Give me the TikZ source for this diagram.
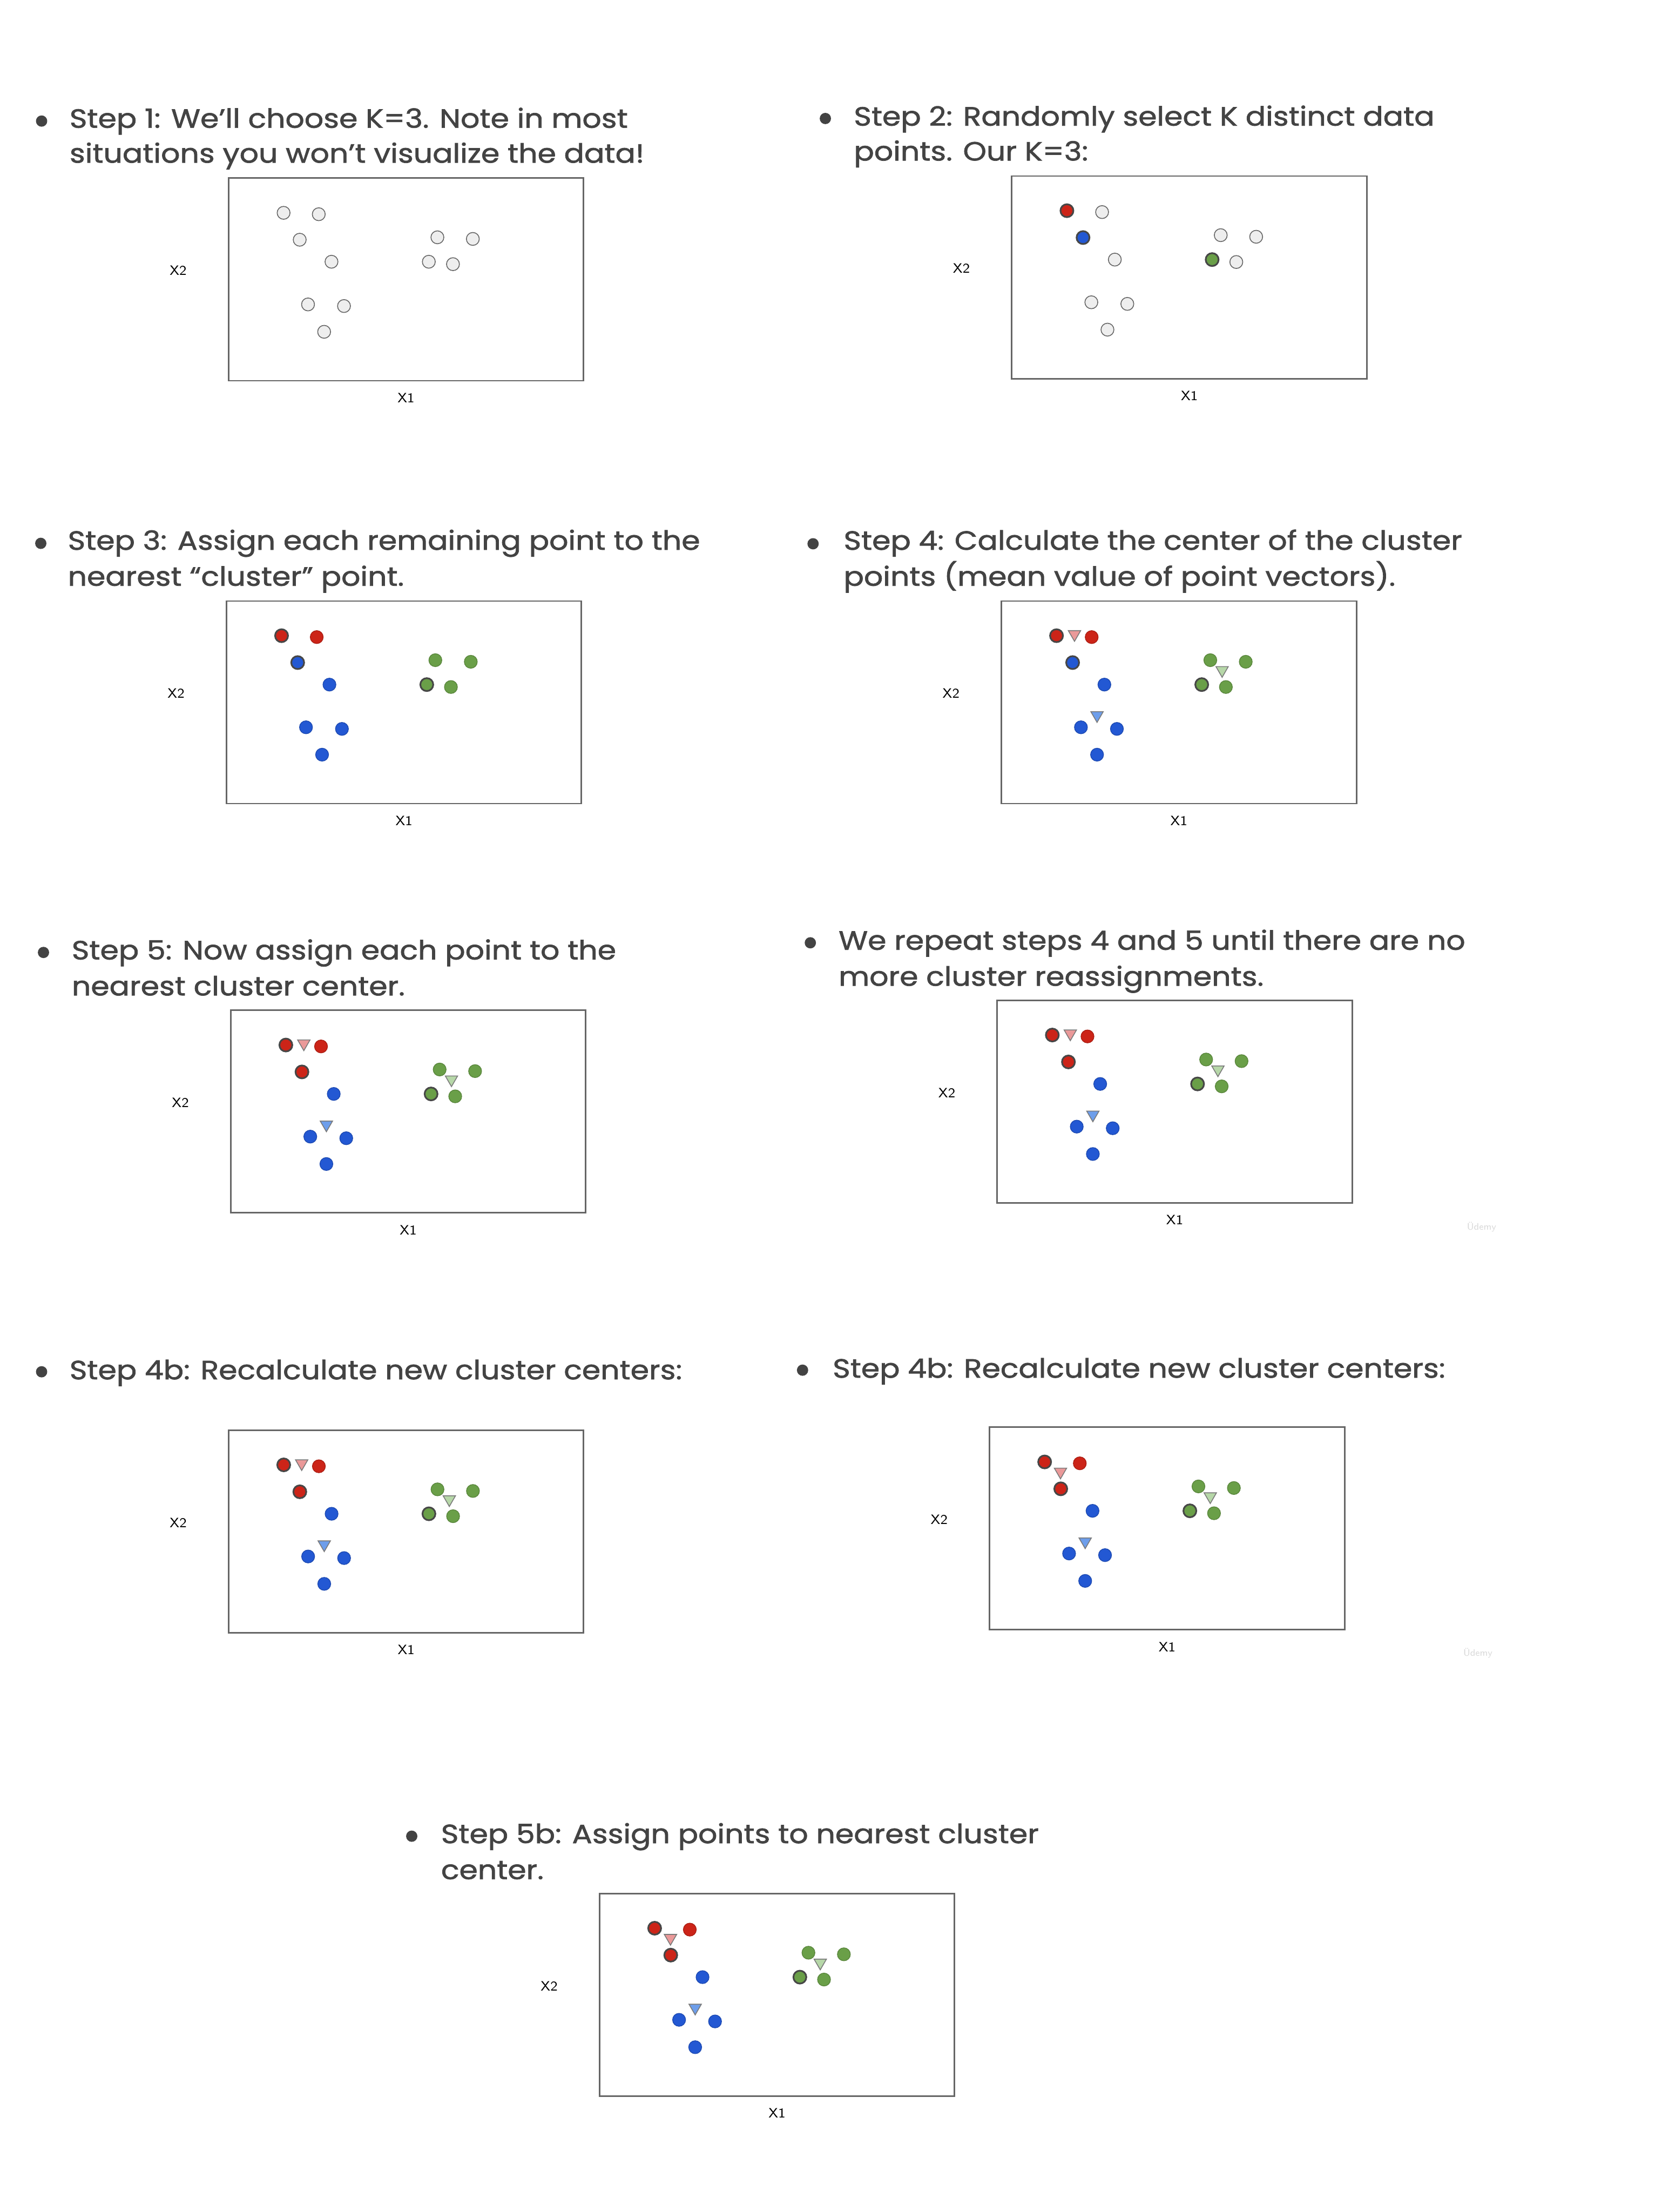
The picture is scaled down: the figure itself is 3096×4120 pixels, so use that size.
\documentclass[tikz,border=0pt]{standalone}
\usepackage{fontspec}
\setmainfont{Poppins}
\newfontfamily\ttlfont[FakeStretch=1.13, FakeBold=1.5]{Poppins}
\usetikzlibrary{shapes.geometric}
\definecolor{txt}{HTML}{434343}
\definecolor{boxc}{HTML}{666666}
\definecolor{kred}{HTML}{CC2418}
\definecolor{kblue}{HTML}{2358D3}
\definecolor{kgreen}{HTML}{6A9F48}
\definecolor{lred}{HTML}{EA9999}
\definecolor{lgreen}{HTML}{B6D7A8}
\definecolor{lblue}{HTML}{6D9EEB}
\definecolor{ptgrey}{HTML}{EEEEEE}
\definecolor{ptline}{HTML}{666666}
\definecolor{seldark}{HTML}{474747}
\definecolor{trline}{HTML}{7A7A7A}
\tikzset{
  ttl/.style={anchor=base west, inner sep=0pt, text=txt, font=\ttlfont\fontsize{14}{16}\selectfont},
  bul/.style={circle, fill=txt, inner sep=0pt, minimum size=0.21cm},
  plotbox/.style={draw=boxc, line width=0.85pt, minimum width=6.61cm, minimum height=3.77cm, inner sep=0pt},
  axlab/.style={font=\sffamily\fontsize{7.2}{8}\selectfont, inner sep=0pt, text=black},
  wmark/.style={font=\sffamily\fontsize{5}{6}\selectfont, inner sep=0pt, text=black!15},
  pt/.style={circle, inner sep=0pt, minimum size=0.24cm},
  gp/.style={pt, fill=ptgrey, draw=ptline, line width=0.45pt},
  rp/.style={pt, fill=kred, draw=kred!85!black, line width=0.4pt},
  rs/.style={pt, fill=kred, draw=seldark, line width=0.9pt},
  bp/.style={pt, fill=kblue, draw=kblue!85!black, line width=0.4pt},
  bs/.style={pt, fill=kblue, draw=seldark, line width=0.9pt},
  np/.style={pt, fill=kgreen, draw=kgreen!85!black, line width=0.4pt},
  ns/.style={pt, fill=kgreen, draw=seldark, line width=0.9pt},
  ctr/.style={regular polygon, regular polygon sides=3, shape border rotate=180, inner sep=0pt, minimum size=0.266cm, draw=trline, line width=0.45pt},
  rc/.style={ctr, fill=lred},
  nc/.style={ctr, fill=lgreen},
  bc/.style={ctr, fill=lblue},
  allgrey/.style={c1/.style=gp, c2/.style=gp, c3/.style=gp, c4/.style=gp, c5/.style=gp, c6/.style=gp, c7/.style=gp, c8/.style=gp, c9/.style=gp, c10/.style=gp, c11/.style=gp},
  pick/.style={allgrey, c1/.style=rs, c3/.style=bs, c7/.style=ns},
  firstassign/.style={c1/.style=rs, c2/.style=rp, c3/.style=bs, c4/.style=bp, c5/.style=np, c6/.style=np, c7/.style=ns, c8/.style=np, c9/.style=bp, c10/.style=bp, c11/.style=bp},
  reassign/.style={firstassign, c3/.style=rs},
}
\newcommand\kmframe[1]{%
  \node[plotbox] (#1box) at (330.5,188.5) {};
  \node[axlab] (#1xtwo) at (-94,172) {X2};
  \node[axlab] (#1xone) at (330.5,409) {X1};
}
\newcommand\kmpts[1]{%
  \node[c1] (#1p1) at (102.5,64.4) {};
  \node[c2] (#1p2) at (168,67) {};
  \node[c3] (#1p3) at (132.5,114.5) {};
  \node[c4] (#1p4) at (191.7,155.5) {};
  \node[c5] (#1p5) at (389,110) {};
  \node[c6] (#1p6) at (455,113) {};
  \node[c7] (#1p7) at (373,155.5) {};
  \node[c8] (#1p8) at (418,160) {};
  \node[c9] (#1p9) at (148,235) {};
  \node[c10] (#1p10) at (215,238) {};
  \node[c11] (#1p11) at (178,286) {};
}
\newcommand\kmctrs[2]{%
  \node[rc] (#1cr) at (#2) {};
  \node[nc] (#1cg) at (411,128.6) {};
  \node[bc] (#1cb) at (178,212.6) {};
}
\begin{document}
\begin{tikzpicture}[x=0.01cm, y=-0.01cm]
\fill[white] (0,0) rectangle (3096,4120);
\useasboundingbox (0,0) rectangle (3096,4120);

% Step 1
\node[bul] (b1) at (77.5,225.5) {};
\node[ttl] (t1a) at (129,238) {Step 1: We’ll choose K=3. Note in most};
\node[ttl] (t1b) at (129,303) {situations you won’t visualize the data!};
\begin{scope}[shift={(425.8,332)}, allgrey]
  \kmframe{pa} \kmpts{pa}
\end{scope}

% Step 2
\node[bul] (b2) at (1537.5,220.7) {};
\node[ttl] (t2a) at (1590,234) {Step 2: Randomly select K distinct data};
\node[ttl] (t2b) at (1590,299) {points. Our K=3:};
\begin{scope}[shift={(1885,328)}, pick]
  \kmframe{pb} \kmpts{pb}
\end{scope}

% Step 3
\node[bul] (b3) at (76,1012) {};
\node[ttl] (t3a) at (125.7,1024) {Step 3: Assign each remaining point to the};
\node[ttl] (t3b) at (125.7,1091) {nearest “cluster” point.};
\begin{scope}[shift={(422,1119.6)}, firstassign]
  \kmframe{pc} \kmpts{pc}
\end{scope}

% Step 4
\node[bul] (b4) at (1514.6,1012.8) {};
\node[ttl] (t4a) at (1571,1024) {Step 4: Calculate the center of the cluster};
\node[ttl] (t4b) at (1571,1091) {points (mean value of point vectors).};
\begin{scope}[shift={(1865.6,1119.6)}, firstassign]
  \kmframe{pd} \kmpts{pd} \kmctrs{pd}{136,61.6}
\end{scope}

% Step 5
\node[bul] (b5) at (81,1774) {};
\node[ttl] (t5a) at (133,1787) {Step 5: Now assign each point to the};
\node[ttl] (t5b) at (133,1854) {nearest cluster center.};
\begin{scope}[shift={(430,1882)}, reassign]
  \kmframe{pe} \kmpts{pe} \kmctrs{pe}{136,61.6}
\end{scope}

% Repeat
\node[bul] (b6) at (1509.5,1756) {};
\node[ttl] (t6a) at (1561.6,1769) {We repeat steps 4 and 5 until there are no};
\node[ttl] (t6b) at (1561.6,1836) {more cluster reassignments.};
\begin{scope}[shift={(1857.8,1863.4)}, reassign]
  \kmframe{pf} \kmpts{pf} \kmctrs{pf}{136,61.6}
\end{scope}
\node[wmark] (w1) at (2760,2285) {Üdemy};

% Step 4b left
\node[bul] (b7) at (77.5,2555) {};
\node[ttl] (t7a) at (129,2569) {Step 4b: Recalculate new cluster centers:};
\begin{scope}[shift={(426,2664)}, reassign]
  \kmframe{pg} \kmpts{pg} \kmctrs{pg}{136,61.6}
\end{scope}

% Step 4b right
\node[bul] (b8) at (1495,2552) {};
\node[ttl] (t8a) at (1550.6,2566) {Step 4b: Recalculate new cluster centers:};
\begin{scope}[shift={(1843.5,2658.5)}, reassign]
  \kmframe{ph} \kmpts{ph} \kmctrs{ph}{132,82.6}
\end{scope}
\node[wmark] (w2) at (2753,3079) {Üdemy};

% Step 5b
\node[bul] (b9) at (767,3420) {};
\node[ttl] (t9a) at (821,3433) {Step 5b: Assign points to nearest cluster};
\node[ttl] (t9b) at (821,3500) {center.};
\begin{scope}[shift={(1117,3527)}, reassign]
  \kmframe{pi} \kmpts{pi} \kmctrs{pi}{132,82.6}
\end{scope}
\end{tikzpicture}
\end{document}
